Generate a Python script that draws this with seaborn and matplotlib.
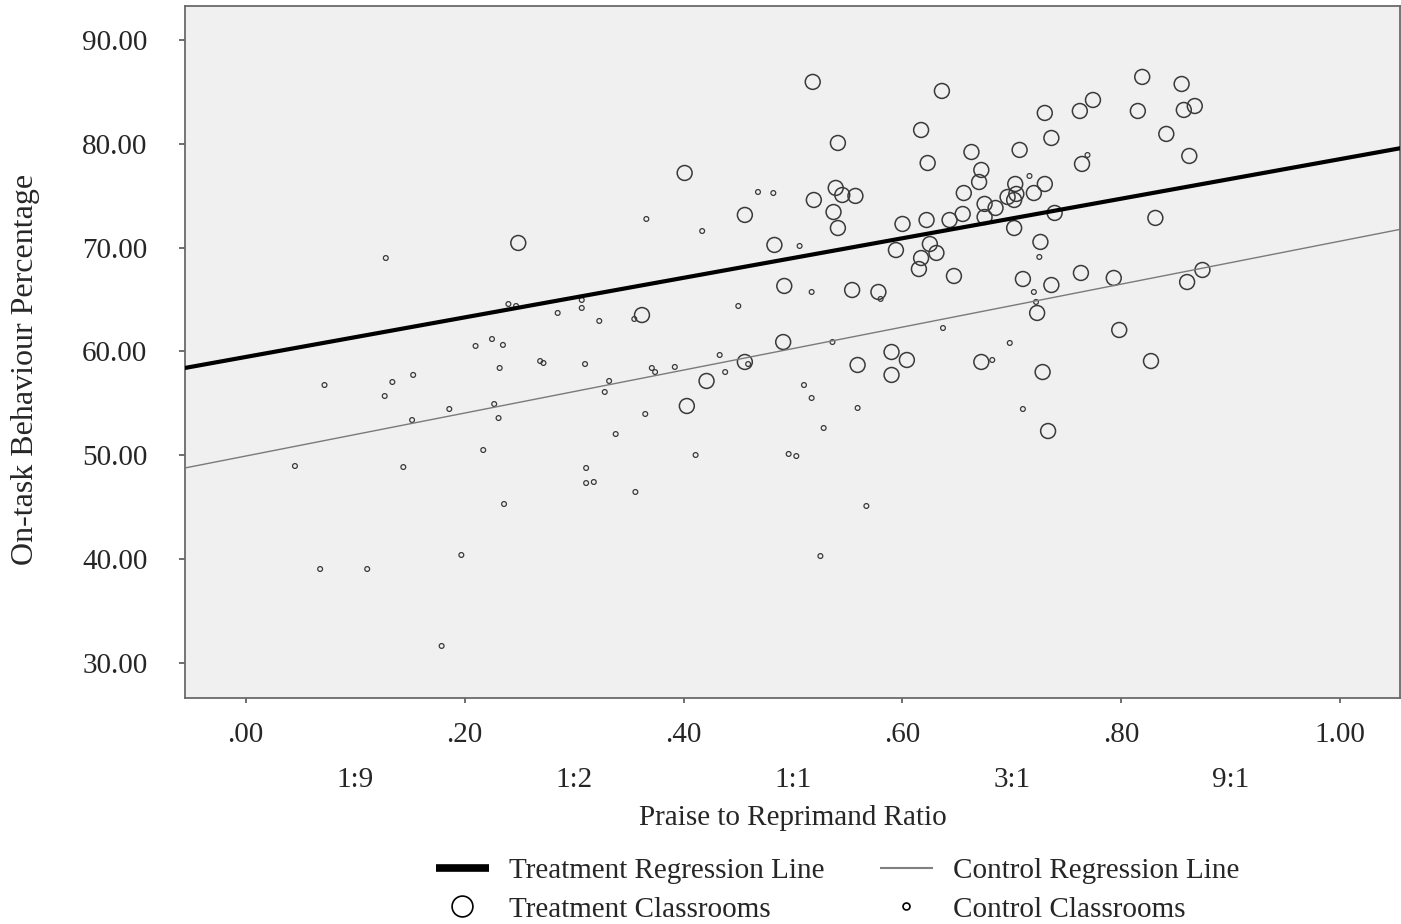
import numpy as np
import pandas as pd
import matplotlib
matplotlib.use("Agg")
import matplotlib.pyplot as plt
from matplotlib.lines import Line2D
import seaborn as sns

# Treatment classrooms (praise ratio, on-task %)
treat_x = [0.249, 0.401, 0.518, 0.636, 0.617, 0.541, 0.663, 0.623, 0.672, 0.670,
           0.539, 0.545, 0.557, 0.656, 0.456, 0.519, 0.537, 0.541, 0.675, 0.685,
           0.655, 0.675, 0.600, 0.622, 0.643, 0.483, 0.625, 0.594, 0.631, 0.617,
           0.615, 0.647, 0.492, 0.554, 0.578, 0.362, 0.491, 0.590, 0.819, 0.855,
           0.774, 0.867, 0.730, 0.762, 0.815, 0.857, 0.841, 0.736, 0.707, 0.862,
           0.764, 0.703, 0.730, 0.720, 0.696, 0.702, 0.704, 0.739, 0.702, 0.831,
           0.726, 0.710, 0.736, 0.763, 0.793, 0.723, 0.860, 0.874, 0.798, 0.456,
           0.421, 0.403, 0.604, 0.559, 0.590, 0.672, 0.728, 0.827, 0.733]
treat_y = [70.45, 77.19, 85.96, 85.09, 81.33, 80.08, 79.21, 78.15, 77.48, 76.32,
           75.75, 75.07, 74.98, 75.26, 73.15, 74.59, 73.43, 71.89, 74.21, 73.82,
           73.24, 72.95, 72.28, 72.66, 72.66, 70.26, 70.35, 69.77, 69.49, 69.00,
           67.94, 67.27, 66.31, 65.92, 65.73, 63.51, 60.91, 59.95, 86.44, 85.76,
           84.22, 83.64, 82.97, 83.16, 83.16, 83.26, 80.95, 80.56, 79.41, 78.83,
           78.06, 76.13, 76.13, 75.26, 74.88, 74.59, 75.17, 73.34, 71.89, 72.86,
           70.55, 66.98, 66.40, 67.56, 67.08, 63.71, 66.69, 67.85, 62.07, 58.99,
           57.16, 54.75, 59.18, 58.70, 57.74, 58.99, 58.02, 59.08, 52.34]

# Control classrooms
ctrl_x = [0.128, 0.240, 0.247, 0.285, 0.307, 0.307, 0.210, 0.225, 0.235, 0.072,
          0.134, 0.153, 0.127, 0.232, 0.269, 0.272, 0.310, 0.186, 0.227, 0.152,
          0.231, 0.217, 0.045, 0.144, 0.311, 0.311, 0.236, 0.197, 0.068, 0.111,
          0.179, 0.366, 0.417, 0.468, 0.482, 0.506, 0.323, 0.355, 0.450, 0.517,
          0.580, 0.637, 0.536, 0.332, 0.328, 0.371, 0.374, 0.392, 0.433, 0.438,
          0.459, 0.510, 0.517, 0.559, 0.528, 0.365, 0.338, 0.411, 0.496, 0.503,
          0.318, 0.356, 0.567, 0.525, 0.682, 0.769, 0.716, 0.725, 0.720, 0.722,
          0.698, 0.710]
ctrl_y = [69.00, 64.57, 64.38, 63.71, 64.19, 64.96, 60.53, 61.20, 60.63, 56.77,
          57.06, 57.74, 55.71, 58.41, 59.08, 58.89, 58.79, 54.46, 54.94, 53.40,
          53.59, 50.51, 48.97, 48.87, 48.78, 47.33, 45.31, 40.40, 39.05, 39.05,
          31.64, 72.76, 71.60, 75.36, 75.26, 70.16, 62.94, 63.13, 64.38, 65.73,
          65.06, 62.26, 60.91, 57.16, 56.10, 58.41, 58.02, 58.51, 59.66, 58.02,
          58.79, 56.77, 55.52, 54.56, 52.63, 53.98, 52.05, 50.03, 50.13, 49.93,
          47.43, 46.47, 45.12, 40.30, 59.18, 78.92, 76.90, 69.10, 65.73, 64.77,
          60.82, 54.46]

# Regression lines (intercept, slope)
treat_fit = (59.47, 19.06)
ctrl_fit = (49.93, 20.70)

x_ticks = [0.0, 0.2, 0.4, 0.6, 0.8, 1.0]
x_ticklabels = [".00", ".20", ".40", ".60", ".80", "1.00"]
ratio_ticks = [0.1, 0.3, 0.5, 0.7, 0.9]
ratio_labels = ["1:9", "1:2", "1:1", "3:1", "9:1"]
y_ticks = [30, 40, 50, 60, 70, 80, 90]
y_ticklabels = ["30.00", "40.00", "50.00", "60.00", "70.00", "80.00", "90.00"]

sns.set_style("white")
plt.rcParams['font.family'] = ['Liberation Serif', 'DejaVu Serif']
plt.rcParams['font.size'] = 21

treat_df = pd.DataFrame({"ratio": treat_x, "ontask": treat_y})
ctrl_df = pd.DataFrame({"ratio": ctrl_x, "ontask": ctrl_y})

fig = plt.figure(figsize=(14.01, 9.24), dpi=100)
ax = fig.add_axes([0.132, 0.2446, 0.8673, 0.7489])
ax.set_facecolor("#f0f0f0")

xlim = (-0.0555, 1.0545)
ylim = (26.63, 93.27)

edge = "#3a3a3a"
sns.scatterplot(data=treat_df, x="ratio", y="ontask", ax=ax, s=115,
                facecolor="none", edgecolor=edge, linewidth=1.1, zorder=3)
sns.scatterplot(data=ctrl_df, x="ratio", y="ontask", ax=ax, s=12,
                facecolor="none", edgecolor=edge, linewidth=0.9, zorder=3)

line_x = np.array(xlim)
sns.lineplot(x=line_x, y=treat_fit[0] + treat_fit[1] * line_x, ax=ax,
             color="black", linewidth=3.0, zorder=4)
sns.lineplot(x=line_x, y=ctrl_fit[0] + ctrl_fit[1] * line_x, ax=ax,
             color="#7a7a7a", linewidth=1.0, zorder=4)

ax.set_xlim(*xlim)
ax.set_ylim(*ylim)

ax.set_xticks(x_ticks)
ax.set_xticklabels(x_ticklabels)
ax.set_xticks(ratio_ticks, minor=True)
ax.set_xticklabels(ratio_labels, minor=True)
ax.set_yticks(y_ticks)
ax.set_yticklabels(y_ticklabels)

ax.tick_params(axis="x", which="major", bottom=True, direction="out",
               length=3.6, width=1.2, color="#555555", pad=14, labelsize=21)
ax.tick_params(axis="x", which="minor", bottom=True, length=0, pad=50,
               labelsize=21)
ax.tick_params(axis="y", which="major", left=True, direction="out",
               length=4.5, width=1.2, color="#555555", pad=22.5, labelsize=21)

for side in ["left", "bottom", "top", "right"]:
    ax.spines[side].set_visible(True)
    ax.spines[side].set_color("#6a6a6a")
    ax.spines[side].set_linewidth(1.3)

ax.set_xlabel("Praise to Reprimand Ratio", fontsize=21, labelpad=8.5)
ax.set_ylabel("")
fig.text(0.018, 0.60, "On-task Behaviour Percentage", rotation=90,
         ha="center", va="center", fontsize=23)

handles = [
    Line2D([], [], color="black", linewidth=5.5, solid_capstyle="butt"),
    Line2D([], [], linestyle="none", marker="o", markersize=15,
           markerfacecolor="none", markeredgecolor="black", markeredgewidth=1.2),
    Line2D([], [], color="#808080", linewidth=1.5, solid_capstyle="butt"),
    Line2D([], [], linestyle="none", marker="o", markersize=5,
           markerfacecolor="none", markeredgecolor="black", markeredgewidth=1.2),
]
labels = ["Treatment Regression Line", "Treatment Classrooms",
          "Control Regression Line", "Control Classrooms"]
fig.legend(handles, labels, loc="center", bbox_to_anchor=(0.598, 0.0368),
           ncol=2, frameon=False, fontsize=21, handlelength=1.8,
           handletextpad=0.7, columnspacing=1.9, labelspacing=0.42)

plt.savefig("out.png", dpi=100)
